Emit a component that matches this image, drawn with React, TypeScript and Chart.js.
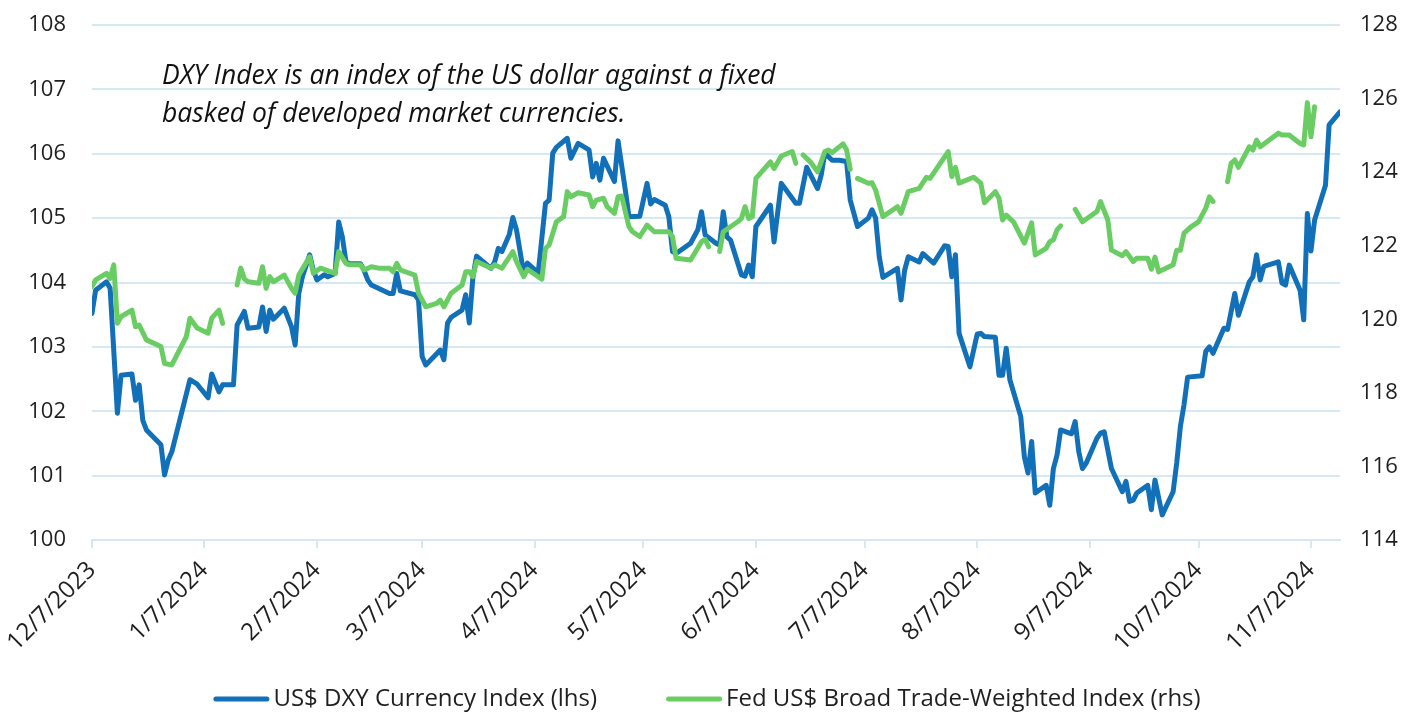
import React, { useEffect, useRef } from "react";
import { Chart, registerables } from "chart.js";

Chart.register(...registerables);

// x positions are days since 12/7/2023
const tickDays = [0, 31, 62, 91, 122, 152, 183, 213, 244, 275, 305, 336];
const tickLabels = [
  "12/7/2023", "1/7/2024", "2/7/2024", "3/7/2024", "4/7/2024", "5/7/2024",
  "6/7/2024", "7/7/2024", "8/7/2024", "9/7/2024", "10/7/2024", "11/7/2024",
];

const dxyDays = [
  0, 1, 4, 5, 7, 8, 11, 12, 13, 14, 15, 19, 20, 21, 22, 27, 29, 32, 33, 35, 36, 39, 40, 42, 43,
  46, 47, 48, 49, 50, 53, 55, 56, 57, 58, 60, 61, 62, 64, 65, 67, 68, 69, 70, 71, 74, 75, 76, 77,
  82, 83, 84, 85, 89, 90, 91, 92, 96, 97, 98, 99, 102, 103, 104, 105, 106, 110, 111, 112, 113,
  115, 116, 117, 119, 120, 123, 125, 126, 127, 128, 131, 132, 134, 137, 138, 139, 140, 141, 144,
  145, 147, 148, 151, 153, 154, 155, 158, 159, 160, 161, 165, 167, 168, 169, 172, 173, 174, 175,
  176, 179, 180, 181, 182, 183, 187, 188, 190, 194, 195, 197, 200, 201, 202, 204, 206, 208, 209,
  211, 214, 215, 216, 217, 218, 222, 223, 224, 225, 228, 229, 232, 235, 236, 237, 238, 239, 242,
  244, 245, 246, 249, 250, 251, 252, 253, 256, 257, 258, 259, 260, 263, 264, 265, 266, 267, 270,
  271, 272, 273, 274, 277, 278, 279, 281, 284, 285, 286, 287, 288, 291, 292, 293, 295, 298, 299,
  300, 301, 302, 306, 307, 308, 309, 312, 313, 315, 316, 319, 320, 321, 322, 323, 327, 328, 329,
  330, 333, 334, 335, 336, 337, 340, 341, 344,
];
const dxyValues = [
  103.52, 103.88, 104.01, 103.91, 101.97, 102.56, 102.58, 102.17, 102.41, 101.86, 101.71, 101.48,
  101.01, 101.24, 101.37, 102.49, 102.42, 102.21, 102.58, 102.30, 102.41, 102.41, 103.34, 103.55,
  103.29, 103.31, 103.62, 103.24, 103.57, 103.43, 103.60, 103.31, 103.03, 103.83, 104.09, 104.43,
  104.19, 104.04, 104.12, 104.09, 104.14, 104.94, 104.71, 104.32, 104.29, 104.29, 104.19, 104.04,
  103.96, 103.83, 103.83, 104.14, 103.87, 103.81, 103.73, 102.85, 102.72, 102.95, 102.80, 103.37,
  103.46, 103.57, 103.81, 103.37, 104.09, 104.41, 104.22, 104.32, 104.53, 104.48, 104.74, 105.01,
  104.82, 104.14, 104.30, 104.15, 105.23, 105.28, 106.01, 106.10, 106.24, 105.93, 106.16, 106.06,
  105.64, 105.85, 105.59, 105.93, 105.57, 106.20, 105.44, 105.02, 105.03, 105.54, 105.22, 105.29,
  105.20, 105.02, 104.48, 104.45, 104.61, 104.82, 105.10, 104.74, 104.61, 104.58, 105.10, 104.71,
  104.66, 104.12, 104.10, 104.27, 104.09, 104.87, 105.20, 104.63, 105.54, 105.23, 105.23, 105.79,
  105.46, 105.67, 106.01, 105.90, 105.90, 105.88, 105.28, 104.87, 105.00, 105.13, 105.00, 104.40,
  104.08, 104.22, 103.73, 104.19, 104.40, 104.32, 104.45, 104.30, 104.57, 104.56, 104.09, 104.43,
  103.21, 102.69, 103.20, 103.21, 103.16, 103.15, 102.56, 102.56, 102.98, 102.49, 101.92, 101.29,
  101.04, 101.53, 100.73, 100.85, 100.54, 101.11, 101.32, 101.71, 101.65, 101.84, 101.37, 101.11,
  101.19, 101.58, 101.66, 101.68, 101.11, 100.75, 100.91, 100.60, 100.62, 100.73, 100.85, 100.47,
  100.93, 100.39, 100.75, 101.20, 101.76, 102.10, 102.53, 102.55, 102.93, 103.00, 102.90, 103.29,
  103.27, 103.83, 103.49, 104.01, 104.09, 104.43, 104.04, 104.25, 104.32, 103.99, 103.96, 104.27,
  103.88, 103.42, 105.07, 104.49, 104.97, 105.51, 106.45, 106.65,
];

// null = no Fed print that day (holiday)
const twDays = [
  0, 1, 4, 5, 6, 7, 8, 11, 12, 13, 15, 19, 20, 22, 26, 27, 29, 32, 33, 35, 36, 39, 40, 41, 42, 43,
  46, 47, 48, 49, 50, 53, 55, 56, 57, 60, 61, 63, 67, 68, 70, 71, 74, 75, 77, 79, 82, 83, 84, 85,
  89, 90, 92, 95, 96, 97, 99, 102, 103, 104, 105, 106, 110, 111, 113, 116, 117, 119, 120, 124,
  125, 126, 128, 130, 131, 132, 134, 137, 138, 139, 141, 142, 144, 145, 146, 148, 149, 151, 153,
  155, 159, 160, 161, 165, 168, 169, 170, 172, 173, 174, 178, 179, 180, 181, 182, 183, 187, 188,
  190, 193, 194, 195, 196, 198, 200, 202, 203, 204, 207, 208, 209, 210, 211, 214, 215, 216, 218,
  222, 223, 225, 228, 230, 231, 236, 237, 238, 239, 243, 245, 246, 249, 250, 251, 252, 254, 257,
  259, 260, 263, 264, 265, 266, 267, 270, 271, 273, 277, 278, 280, 281, 284, 285, 287, 288, 291,
  292, 293, 294, 298, 299, 300, 301, 303, 305, 307, 308, 309, 312, 313, 314, 315, 316, 319, 320,
  321, 322, 327, 328, 330, 333, 334, 335, 336, 337,
];
const twValues = [
  120.89, 121.07, 121.25, 121.11, 121.48, 119.89, 120.07, 120.25, 119.80, 119.84, 119.44, 119.26,
  118.80, 118.76, 119.53, 120.03, 119.76, 119.62, 120.03, 120.25, 119.89, null, 120.93, 121.39,
  121.10, 121.02, 120.98, 121.43, 120.84, 121.16, 121.02, 121.20, 120.84, 120.71, 121.20, 121.70,
  121.25, 121.39, 121.25, 121.84, 121.52, 121.48, 121.48, 121.34, 121.43, 121.39, 121.39, 121.29,
  121.52, 121.34, 121.20, 120.71, 120.34, 120.43, 120.52, 120.34, 120.71, 120.93, 121.29, 121.29,
  121.16, 121.57, 121.39, 121.48, 121.39, 121.84, 121.57, 121.16, 121.36, 121.09, 121.93, 122.02,
  122.65, 122.79, 123.47, 123.33, 123.44, 123.38, 123.06, 123.24, 123.29, 123.06, 122.88, 123.33,
  123.35, 122.52, 122.38, 122.25, 122.56, 122.38, 122.38, 122.25, 121.66, 121.61, 122.11, 122.17,
  121.97, null, 121.84, 122.38, 122.65, 122.74, 123.06, 122.74, 122.79, 123.83, 124.28, 124.10,
  124.44, 124.56, 124.24, null, 124.47, 124.28, 124.01, 124.56, 124.60, 124.53, 124.77, 124.60,
  124.08, null, 123.83, 123.70, 123.71, 123.51, 122.79, 123.06, 122.88, 123.47, 123.56, 123.86,
  123.83, 124.56, 123.88, 124.13, 123.70, 123.86, 123.70, 123.17, 123.47, 123.29, 122.70, 122.83,
  122.65, 122.07, 122.62, 121.75, 121.93, 122.11, 122.16, 122.43, 122.54, null, 122.99, 122.65,
  122.93, 123.20, 122.70, 121.88, 121.73, 121.84, 121.57, 121.66, 121.66, 121.36, 121.69, 121.29,
  121.48, 121.88, 121.88, 122.34, 122.52, 122.65, 123.02, 123.33, 123.20, null, 123.74, 124.24,
  124.33, 124.13, 124.69, 124.60, 124.87, 124.69, 125.06, 125.01, 125.01, 124.78, 124.74, 125.89,
  124.96, 125.78,
];

const seriesNames = ["US$ DXY Currency Index (lhs)", "Fed US$ Broad Trade-Weighted Index (rhs)"];
const seriesColors = ["#1170B8", "#6ACD64"];
const noteLines = [
  "DXY Index is an index of the US dollar against a fixed",
  "basked of developed market currencies.",
];

const FONT = '"Open Sans", "Noto Sans", sans-serif';
const TEXT = "#1f1f1f";
const GRID = "#D4E9F2";

const notePlugin = {
  id: "note",
  afterDraw(chart: any) {
    const ctx = chart.ctx;
    ctx.save();
    ctx.font = `italic 26.5px ${FONT}`;
    ctx.fillStyle = "#111";
    ctx.textBaseline = "alphabetic";
    ctx.textAlign = "left";
    ctx.fillText(noteLines[0], 162, 84);
    ctx.fillText(noteLines[1], 162, 122);
    ctx.restore();
  },
};

const legendPlugin = {
  id: "customLegend",
  afterDraw(chart: any) {
    const ctx = chart.ctx;
    ctx.save();
    ctx.font = `24px ${FONT}`;
    const sw = 56, gap = 4, itemGap = 69;
    const items = chart.data.datasets.map((ds: any) => ({ text: ds.label, color: ds.borderColor }));
    const widths = items.map((it: any) => ctx.measureText(it.text).width);
    let total = 0;
    widths.forEach((w: number, i: number) => { total += sw + gap + w + (i < widths.length - 1 ? itemGap : 0); });
    let x = 707 - total / 2;
    const y = 699;
    items.forEach((it: any, i: number) => {
      ctx.strokeStyle = it.color;
      ctx.lineWidth = 5;
      ctx.lineCap = "round";
      ctx.beginPath();
      ctx.moveTo(x + 2.5, y);
      ctx.lineTo(x + sw - 2.5, y);
      ctx.stroke();
      ctx.fillStyle = TEXT;
      ctx.textBaseline = "middle";
      ctx.textAlign = "left";
      ctx.fillText(it.text, x + sw + gap, y);
      x += sw + gap + widths[i] + itemGap;
    });
    ctx.restore();
  },
};

export default function App() {
  const ref = useRef<HTMLCanvasElement | null>(null);
  useEffect(() => {
    if (!ref.current) return;
    const chart = new Chart(ref.current, {
      type: "line",
      data: {
        datasets: [
          {
            label: seriesNames[0],
            data: dxyDays.map((d, i) => ({ x: d, y: dxyValues[i] })),
            yAxisID: "y",
            borderColor: seriesColors[0],
            backgroundColor: seriesColors[0],
            borderWidth: 5,
            pointRadius: 0,
            borderJoinStyle: "round",
            borderCapStyle: "round",
            tension: 0,
            order: 1,
          },
          {
            label: seriesNames[1],
            data: twDays.map((d, i) => ({ x: d, y: twValues[i] })),
            yAxisID: "y1",
            borderColor: seriesColors[1],
            backgroundColor: seriesColors[1],
            borderWidth: 5,
            pointRadius: 0,
            borderJoinStyle: "round",
            borderCapStyle: "round",
            tension: 0,
            spanGaps: false,
            order: 0,
          },
        ],
      },
      options: {
        responsive: false,
        animation: false,
        devicePixelRatio: 1,
        layout: { padding: { top: 25, bottom: 0, left: 0, right: 0 } },
        plugins: { legend: { display: false }, tooltip: { enabled: false } },
        scales: {
          x: {
            type: "linear",
            min: 0,
            max: 344,
            afterBuildTicks: (scale: any) => {
              scale.ticks = tickDays.map((v) => ({ value: v }));
            },
            afterFit: (scale: any) => {
              scale.height = 175;
            },
            grid: {
              display: true,
              drawOnChartArea: false,
              drawTicks: true,
              tickLength: 8,
              color: GRID,
              lineWidth: 2,
            },
            border: { display: true, color: GRID, width: 2 },
            ticks: {
              autoSkip: false,
              minRotation: 45,
              maxRotation: 45,
              padding: 8,
              color: TEXT,
              font: { family: FONT, size: 24 },
              callback: (value: any) => {
                const i = tickDays.indexOf(Number(value));
                return i >= 0 ? tickLabels[i] : "";
              },
            },
          },
          y: {
            position: "left",
            min: 100,
            max: 108,
            afterFit: (scale: any) => {
              scale.width = 92;
            },
            grid: {
              color: GRID,
              lineWidth: 2,
              drawTicks: true,
              tickLength: 23,
              tickColor: "rgba(0,0,0,0)",
            },
            border: { display: false },
            ticks: {
              stepSize: 1,
              padding: 3,
              color: TEXT,
              font: { family: FONT, size: 22 },
            },
          },
          y1: {
            position: "right",
            min: 114,
            max: 128,
            afterFit: (scale: any) => {
              scale.width = 71;
            },
            grid: {
              drawOnChartArea: false,
              drawTicks: true,
              tickLength: 17,
              tickColor: "rgba(0,0,0,0)",
            },
            border: { display: false },
            ticks: {
              stepSize: 2,
              padding: 3,
              color: TEXT,
              font: { family: FONT, size: 22 },
            },
          },
        },
      },
      plugins: [notePlugin, legendPlugin],
    } as any);
    return () => chart.destroy();
  }, []);
  return (
    <div style={{ position: "fixed", left: 0, top: 0, width: 1411, height: 715, background: "#fff" }}>
      <canvas ref={ref} width={1411} height={715} style={{ display: "block" }} />
    </div>
  );
}
